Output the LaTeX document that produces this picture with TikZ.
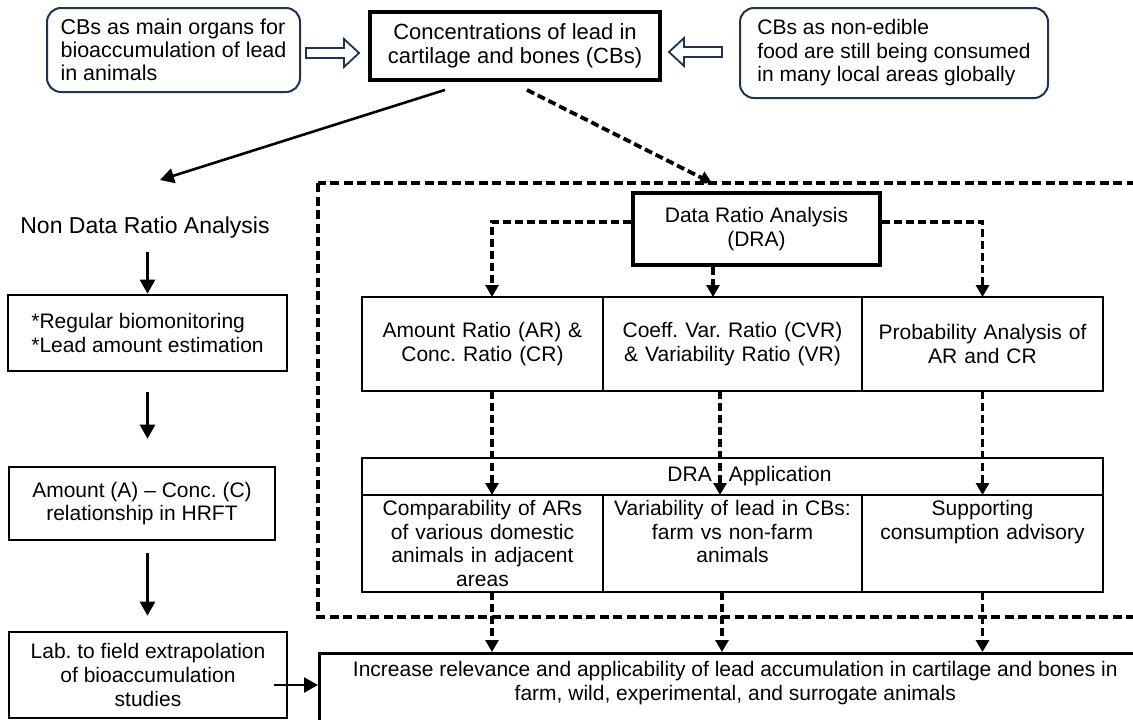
\documentclass[tikz,border=0pt]{standalone}
\usepackage{fontspec}
\setmainfont{Liberation Sans}
\usetikzlibrary{arrows.meta,positioning}
\definecolor{navy}{RGB}{31,50,82}
\frenchspacing

\tikzset{
  roundbox/.style={draw=navy, line width=2pt, rounded corners=14pt, align=left},
  box/.style={draw, line width=2.6pt, align=center},
  thickbox/.style={box, line width=3.8pt},
  cell/.style={box, outer sep=0pt, inner xsep=3pt, inner ysep=2pt},
  arr/.style={-{Triangle[length=14pt,width=15pt]}, line width=2.6pt},
  dasharr/.style={-{Triangle[length=12pt,width=13pt]}, line width=3.8pt, dash pattern=on 8pt off 4pt},
  frame/.style={line width=4pt, dash pattern=on 9pt off 4.5pt},
  pics/hollowarrow/.style={code={
    \draw[navy, line width=1.8pt, fill=white, line join=miter]
      (0,-5) -- (38,-5) -- (38,-14) -- (53,0) -- (38,14) -- (38,5) -- (0,5) -- cycle;}}
}

\begin{document}
\begin{tikzpicture}[x=1pt, y=-1pt, font=\fontsize{21}{23.7}\selectfont]
\useasboundingbox[fill=white] (0,0) rectangle (1133,720);

% top row
\node[roundbox, minimum width=253pt, minimum height=84pt, font=\fontsize{21.5}{23}\selectfont] (organs) at (173.5,50) {CBs as main organs for\\bioaccumulation of lead\\in animals};
\node[thickbox, minimum width=290pt, minimum height=68pt, font=\fontsize{22}{24}\selectfont] (conc) at (515,46) {Concentrations of lead in\\cartilage and bones (CBs)};
\node[roundbox, minimum width=308pt, minimum height=90pt, font=\fontsize{21}{23.5}\selectfont] (food) at (894,53) {CBs as non-edible\\food are still being consumed\\in many local areas globally};
\pic at ([xshift=5pt, yshift=-3pt]organs.east) {hollowarrow};
\pic[xscale=-1] at ([xshift=-17pt, yshift=1pt]food.west) {hollowarrow};

% split
\coordinate (ndratop) at (160,180);
\coordinate (frametop) at (712,183);
\draw[arr] ([xshift=-70pt, yshift=-8pt]conc.south) -- (ndratop);
\draw[dasharr] ([xshift=12pt, yshift=-8pt]conc.south) -- (frametop);

% non data ratio branch
\node[font=\fontsize{23}{26}\selectfont] (ndra) at (145,228) {Non Data Ratio Analysis};
\node[box, minimum width=279pt, minimum height=76pt, align=left] (regmon) at (147.5,333) {*Regular biomonitoring\\*Lead amount estimation};
\node[box, minimum width=266pt, minimum height=73pt] (amtconc) at (142,503.5) {Amount (A) -- Conc. (C)\\relationship in HRFT};
\node[box, minimum width=278pt, minimum height=86pt] (labfield) at (148,675) {Lab. to field extrapolation\\of bioaccumulation\\studies};
\draw[arr, shorten <=10pt] (regmon.north |- ndra.south) -- (regmon.north);
\draw[arr, shorten <=20pt, shorten >=27pt] (regmon.south) -- (regmon.south |- amtconc.north);
\draw[arr, shorten <=12pt, shorten >=15pt] (regmon.south |- amtconc.south) -- (regmon.south |- labfield.north);

% data ratio branch
\draw[frame] (318,183) rectangle (1150,617);
\node[thickbox, minimum width=247pt, minimum height=72pt] (dra) at (756.5,229) {Data Ratio Analysis\\(DRA)};
\node[cell, minimum width=241pt, minimum height=94pt, text width=235pt] (arcr) at (482.5,344) {Amount Ratio (AR) \&\\Conc. Ratio (CR)};
\node[cell, minimum width=259pt, minimum height=94pt, text width=253pt, right=0pt of arcr] (cvr) {Coeff. Var. Ratio (CVR)\\\& Variability Ratio (VR)};
\node[cell, minimum width=241pt, minimum height=94pt, text width=235pt, right=0pt of cvr] (prob) {Probability Analysis of\\AR and CR};
\node[cell, minimum width=741pt, minimum height=37pt] (app) at (732.5,476.5) {\hspace*{34pt}DRA\hspace{17pt}Application};
\node[cell, minimum width=241pt, minimum height=97pt, text width=235pt, below right=0pt and 0pt of app.south west] (comp) {Comparability of ARs\\of various domestic\\animals in adjacent\\areas};
\node[cell, minimum width=259pt, minimum height=97pt, text width=253pt, right=0pt of comp] (varl) {Variability of lead in CBs:\\farm vs non-farm\\animals\\~};
\node[cell, minimum width=241pt, minimum height=97pt, text width=235pt, right=0pt of varl] (adv) {Supporting\\consumption advisory\\~\\~};

% outcome
\node[box, anchor=north west, minimum width=832pt, minimum height=120pt] (incr) at (318,652) {};
\node[align=center, below=6pt of incr.north] (incrtxt) {Increase relevance and applicability of lead accumulation in cartilage and bones in\\farm, wild, experimental, and surrogate animals};
\draw[arr] ([xshift=-14pt, yshift=-10pt]labfield.east) -- ([yshift=-10pt]labfield.east -| incr.west);

% dashed connectors
\draw[dasharr] ([yshift=7pt]dra.west) -| ([xshift=9.5pt]arcr.north);
\draw[dasharr] ([xshift=-43.5pt]dra.south) -- ([xshift=-43.5pt]dra.south |- cvr.north);
\draw[dasharr] ([yshift=7pt]dra.east) -| (prob.north);
\draw[dasharr] ([xshift=9.5pt]arcr.south) -- ([xshift=9.5pt]comp.north);
\draw[dasharr] ([xshift=-12.5pt]cvr.south) -- ([xshift=-12.5pt]varl.north);
\draw[dasharr] (prob.south) -- (adv.north);
\draw[dasharr] ([xshift=9.5pt]comp.south) -- ([xshift=9.5pt]comp.south |- incr.north);
\draw[dasharr] ([xshift=-10.5pt]varl.south) -- ([xshift=-10.5pt]varl.south |- incr.north);
\draw[dasharr] (adv.south) -- (adv.south |- incr.north);
\end{tikzpicture}
\end{document}
